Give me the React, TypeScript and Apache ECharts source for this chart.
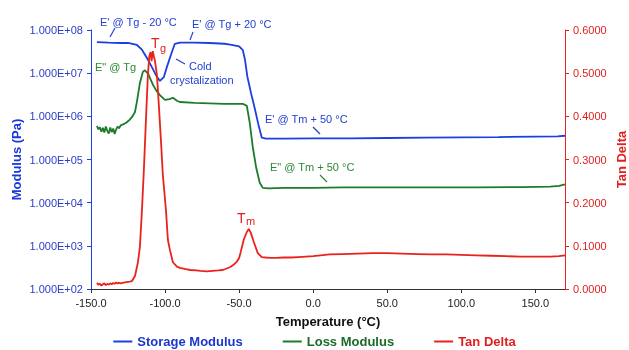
import React, { useEffect, useRef } from "react";
import * as echarts from "echarts";

// Temperature (°C) vs storage modulus E' (Pa)
const storageModulus: [number, number][] = [
  [-146, 5.25e7], [-138, 5.1e7], [-130, 5.0e7], [-125, 5.0e7], [-119, 4.5e7], [-115.6, 3.5e7],
  [-112.2, 2.25e7], [-108.9, 1.38e7], [-106.2, 9.1e6], [-103.5, 6.6e6], [-100.8, 8.1e6],
  [-98.8, 1.38e7], [-95.4, 3.1e7], [-93.4, 4.8e7], [-90, 5.1e7], [-80, 5.1e7], [-70, 5.0e7],
  [-60, 4.8e7], [-56, 4.6e7], [-50, 4.2e7], [-47.5, 3.4e7], [-46, 2.0e7], [-44.5, 8.5e6],
  [-42, 3.5e6], [-39.4, 1.5e6], [-37, 6.5e5], [-34.7, 3.2e5], [-32, 3.05e5], [-20, 3.05e5],
  [0, 3.1e5], [25, 3.1e5], [50, 3.15e5], [75, 3.2e5], [100, 3.25e5], [125, 3.3e5],
  [150, 3.4e5], [165, 3.45e5], [170, 3.55e5],
];

// Temperature (°C) vs loss modulus E" (Pa)
const lossModulus: [number, number][] = [
  [-146, 6.0e5], [-145, 5.0e5], [-144, 5.6e5], [-143, 4.4e5], [-142, 5.4e5], [-141, 4.2e5],
  [-140, 5.8e5], [-139, 4.6e5], [-138, 4.0e5], [-137, 5.5e5], [-136, 4.3e5], [-135, 5.2e5],
  [-134, 3.9e5], [-133, 5.0e5], [-132, 5.8e5], [-131, 5.3e5], [-130, 6.2e5], [-128, 6.6e5],
  [-126, 7.2e5], [-124, 8.3e5], [-122, 1.0e6], [-120.3, 1.26e6], [-119, 2.2e6], [-117, 5.9e6],
  [-115, 1.07e7], [-113.6, 1.17e7], [-112.5, 1.05e7], [-111.6, 1.0e7], [-110, 7.5e6],
  [-108.2, 5.4e6], [-106, 4.0e6], [-103.5, 3.1e6], [-100.1, 2.4e6], [-97, 2.5e6],
  [-94.7, 2.7e6], [-92, 2.3e6], [-90, 2.15e6], [-80, 2.05e6], [-70, 2.0e6], [-60, 1.95e6],
  [-52, 1.95e6], [-47.5, 1.95e6], [-44.8, 1.75e6], [-42.8, 7.0e5], [-40.8, 1.95e5],
  [-38.5, 6.5e4], [-36.1, 2.9e4], [-34, 2.2e4], [-30, 2.15e4], [-20, 2.2e4], [0, 2.2e4],
  [20, 2.25e4], [50, 2.25e4], [80, 2.25e4], [110, 2.25e4], [140, 2.3e4], [160, 2.35e4],
  [166, 2.45e4], [170, 2.65e4],
];

// Temperature (°C) vs tan delta
const tanDelta: [number, number][] = [
  [-146, 0.014], [-145, 0.010], [-144, 0.012], [-143, 0.008], [-142, 0.011], [-141, 0.013],
  [-140, 0.009], [-139, 0.012], [-138, 0.010], [-137, 0.013], [-136, 0.011], [-135, 0.014],
  [-134, 0.012], [-133, 0.015], [-132, 0.013], [-131, 0.014], [-130, 0.013], [-128, 0.015],
  [-126, 0.016], [-124, 0.017], [-122.4, 0.018], [-120.3, 0.030], [-118.3, 0.062],
  [-117, 0.097], [-115.6, 0.183], [-114.3, 0.276], [-112.9, 0.392], [-111.6, 0.496],
  [-110.6, 0.540], [-109.8, 0.549], [-109.1, 0.528], [-108.3, 0.551], [-107.5, 0.538],
  [-106.9, 0.530], [-105.5, 0.496], [-104.2, 0.426], [-102.8, 0.345], [-101.5, 0.264],
  [-99.4, 0.183], [-98.1, 0.114], [-96.7, 0.090], [-94.7, 0.062], [-92, 0.052], [-90, 0.049],
  [-86, 0.046], [-83, 0.044], [-79, 0.043], [-76, 0.042], [-72, 0.041], [-68, 0.042],
  [-64, 0.043], [-61, 0.044], [-58, 0.048], [-56, 0.051], [-53.5, 0.057], [-51.6, 0.063],
  [-50, 0.072], [-48.9, 0.086], [-46.9, 0.114], [-44.8, 0.132], [-43.5, 0.139], [-42.1, 0.130],
  [-40.1, 0.109], [-37.4, 0.083], [-34.7, 0.074], [-32, 0.073], [-29, 0.072], [-25, 0.072],
  [-20, 0.073], [-15, 0.073], [-10, 0.074], [-5, 0.075], [0, 0.076], [5, 0.078], [11, 0.080],
  [20, 0.081], [30, 0.082], [40, 0.083], [50, 0.083], [60, 0.082], [70, 0.081], [80, 0.080],
  [90, 0.080], [100, 0.079], [110, 0.078], [120, 0.077], [130, 0.076], [140, 0.075],
  [150, 0.075], [160, 0.075], [166, 0.076], [170, 0.078],
];

const seriesNames = ["Storage Modulus", "Loss Modulus", "Tan Delta"];
const xAxisTitle = "Temperature (°C)";
const leftAxisTitle = "Modulus (Pa)";
const rightAxisTitle = "Tan Delta";

const BLUE = "#1c3fe0";
const GREEN = "#1e7a2c";
const RED = "#e8231c";
const FONT = "'Liberation Sans', Arial, sans-serif";

function sci(v: number): string {
  const [m, e] = v.toExponential(3).toUpperCase().split("E");
  const n = parseInt(e, 10);
  const sign = n < 0 ? "-" : "+";
  return m + "E" + sign + String(Math.abs(n)).padStart(2, "0");
}

export default function App() {
  const ref = useRef<HTMLDivElement>(null);
  useEffect(() => {
    if (!ref.current) return;
    const chart = echarts.init(ref.current, null, { renderer: "svg" });
    const txt = (text: string, x: number, y: number, fill: string, size = 11) => ({
      type: "text",
      style: { text, x, y, fill, font: `${size}px ${FONT}`, textVerticalAlign: "middle", textAlign: "left" },
      z: 100,
    });
    const ln = (x1: number, y1: number, x2: number, y2: number, stroke: string) => ({
      type: "line",
      shape: { x1, y1, x2, y2 },
      style: { stroke, lineWidth: 1.2 },
      z: 100,
    });
    chart.setOption({
      animation: false,
      textStyle: { fontFamily: FONT },
      grid: { left: 91, right: 64, top: 30, bottom: 61, outerBoundsMode: "none" },
      legend: {
        bottom: -3,
        left: "center",
        icon: "rect",
        itemWidth: 19,
        itemHeight: 2,
        itemGap: 40,
        textStyle: { fontSize: 13, fontWeight: "bold", fontFamily: FONT },
        data: [
          { name: seriesNames[0], textStyle: { color: "#1a38cc" } },
          { name: seriesNames[1], textStyle: { color: "#1d6b2a" } },
          { name: seriesNames[2], textStyle: { color: "#e02020" } },
        ],
      },
      xAxis: {
        type: "value",
        min: -150,
        max: 170,
        interval: 50,
        name: xAxisTitle,
        nameLocation: "middle",
        nameGap: 26,
        nameMoveOverlap: false,
        nameTextStyle: { fontSize: 13, fontWeight: "bold", color: "#111" },
        axisLine: { onZero: false, lineStyle: { color: "#333", width: 1 } },
        axisTick: { show: true, length: 4, lineStyle: { color: "#333" } },
        axisLabel: { fontSize: 11, color: "#222", formatter: (v: number) => v.toFixed(1), showMaxLabel: false },
        splitLine: { show: false },
      },
      yAxis: [
        {
          type: "log",
          logBase: 10,
          min: 100,
          max: 1e8,
          interval: 1,
          name: leftAxisTitle,
          nameLocation: "middle",
          nameGap: 68,
          nameMoveOverlap: false,
          nameTextStyle: { fontSize: 13, fontWeight: "bold", color: "#1a38dd" },
          axisLine: { show: true, onZero: false, lineStyle: { color: BLUE, width: 1 } },
          axisTick: { show: true, length: 4, lineStyle: { color: BLUE } },
          axisLabel: { fontSize: 11, color: "#2a3cc8", formatter: (v: number) => sci(v) },
          splitLine: { show: false },
          minorTick: { show: false },
        },
        {
          type: "value",
          min: 0,
          max: 0.6,
          interval: 0.1,
          position: "right",
          name: rightAxisTitle,
          nameLocation: "middle",
          nameGap: 50,
          nameRotate: 90,
          nameMoveOverlap: false,
          nameTextStyle: { fontSize: 13, fontWeight: "bold", color: "#e02020" },
          axisLine: { show: true, onZero: false, lineStyle: { color: RED, width: 1 } },
          axisTick: { show: true, length: 4, lineStyle: { color: RED } },
          axisLabel: { fontSize: 11, color: "#e02020", formatter: (v: number) => v.toFixed(4) },
          splitLine: { show: false },
        },
      ],
      series: [
        {
          name: seriesNames[0],
          type: "line",
          yAxisIndex: 0,
          data: storageModulus,
          showSymbol: false,
          symbol: "none",
          lineStyle: { color: BLUE, width: 1.8 },
          itemStyle: { color: BLUE },
        },
        {
          name: seriesNames[1],
          type: "line",
          yAxisIndex: 0,
          data: lossModulus,
          showSymbol: false,
          symbol: "none",
          lineStyle: { color: GREEN, width: 1.8 },
          itemStyle: { color: GREEN },
        },
        {
          name: seriesNames[2],
          type: "line",
          yAxisIndex: 1,
          data: tanDelta,
          showSymbol: false,
          symbol: "none",
          lineStyle: { color: RED, width: 1.8 },
          itemStyle: { color: RED },
        },
      ],
      graphic: [
        txt("E' @ Tg - 20 °C", 100, 22, "#2440d0"),
        ln(115, 28, 110, 37, "#2440d0"),
        txt("E' @ Tg + 20 °C", 192, 24, "#2440d0"),
        ln(193, 32, 190, 40, "#2440d0"),
        txt('E" @ Tg', 95, 67, "#2a8a35"),
        txt("Cold", 189, 66, "#2440d0"),
        txt("crystalization", 170, 80, "#2440d0"),
        ln(176, 59, 185, 64, "#2440d0"),
        txt("E' @ Tm + 50 °C", 265, 119, "#2440d0"),
        ln(313, 127, 320, 134, "#2440d0"),
        txt('E" @ Tm + 50 °C', 270, 167, "#2a8a35"),
        ln(320, 175, 327, 182, "#2a8a35"),
        txt("T", 151, 43, "#e02020", 14),
        txt("g", 160, 48, "#e02020", 11),
        txt("T", 237, 218, "#e02020", 14),
        txt("m", 246, 221, "#e02020", 11),
      ],
    });
    return () => chart.dispose();
  }, []);
  return <div ref={ref} style={{ position: "fixed", left: 0, top: 0, width: 629, height: 350 }} />;
}
